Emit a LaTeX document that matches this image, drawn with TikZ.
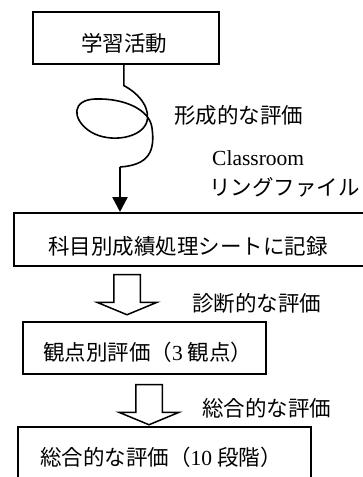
\documentclass[tikz,border=0pt]{standalone}
\usepackage{fontspec}
\setmainfont{Liberation Serif}
\newfontfamily\jp{Noto Sans CJK JP}
\usetikzlibrary{arrows.meta,shapes.arrows}
\begin{document}
\begin{tikzpicture}[x=1pt,y=-1pt,
  box/.style={draw, line width=1.6pt, rectangle, anchor=north west, inner sep=0pt},
  txt/.style={anchor=west, inner sep=0pt, font=\fontsize{21.5}{24}\selectfont\jp},
  lat/.style={anchor=west, inner sep=0pt, font=\fontsize{21.5}{24}\selectfont},
  curve/.style={line width=1.6pt},
  arr/.style={line width=2.4pt, -{Triangle[width=15pt,length=15pt]}},
  hollow/.style={single arrow, draw, line width=1.5pt, rotate=-90,
    minimum height=40pt, minimum width=58pt, inner sep=12.5pt,
    single arrow head extend=16.5pt, single arrow tip angle=135}
]
\useasboundingbox (0,0) rectangle (363,477);

% boxes
\node[box, minimum width=186pt, minimum height=52pt] (b1) at (32,11) {};
\node[box, minimum width=370pt, minimum height=53pt] (b2) at (13,212) {};
\node[box, minimum width=243pt, minimum height=52pt] (b3) at (22,321) {};
\node[box, minimum width=293pt, minimum height=70pt] (b4) at (17,426) {};

% box texts
\node[txt] (t1) at (81,43) {学習活動};
\node[txt] (t2) at (48,246) {科目別成績処理シートに記録};
\node[txt] (t3) at (43,352) {観点別評価（\textrm{3} 観点）};
\node[txt] (t4) at (40,457) {総合的な評価（\textrm{10} 段階）};

% labels
\node[txt] (l1) at (174,115) {形成的な評価};
\node[lat] (l2) at (212,158) {Classroom};
\node[txt] (l3) at (209,187) {リングファイル};
\node[txt] (l4) at (192,303) {診断的な評価};
\node[txt] (l5) at (202,408) {総合的な評価};

% looped connector
\coordinate (k) at (120,167);
\draw[curve] ([xshift=-2pt]b1.south) -- ++(0,21)
  .. controls (140,94) and (152,110) .. (146,124)
  .. controls (138,140) and (105,143) .. (88,130)
  .. controls (72,118) and (72,100) .. (95,99)
  .. controls (125,98) and (150,110) .. (152,128)
  .. controls (155,150) and (150,165) .. (k);
\draw[arr] (k) -- (k |- b2.north);

% hollow arrows
\node[hollow] (a1) at (127,292) {};
\node[hollow] (a2) at (149,402) {};
\end{tikzpicture}
\end{document}
